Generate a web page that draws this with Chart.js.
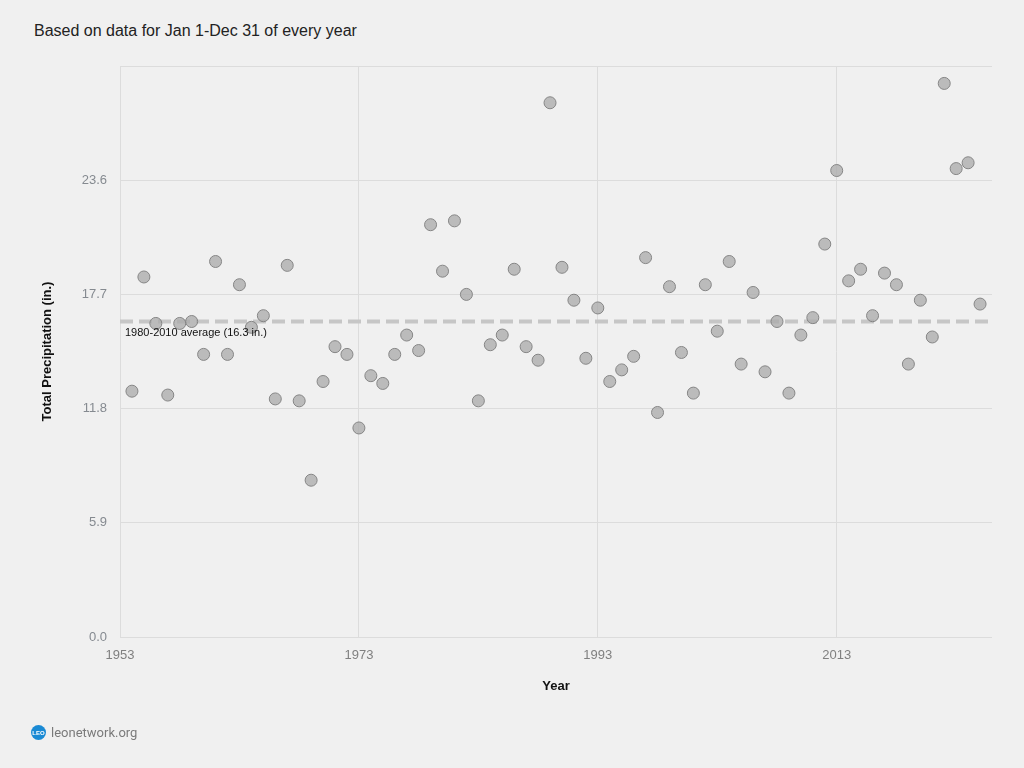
<!DOCTYPE html>
<html>
<head>
<meta charset="utf-8">
<script src="https://cdn.jsdelivr.net/npm/chart.js@4.4.1/dist/chart.umd.min.js"></script>
<style>
    html, body { margin: 0; padding: 0; background: #f0f0f0; }
    body { width: 1024px; height: 768px; position: relative; overflow: hidden; }
    #title {
        position: absolute; left: 34px; top: 22px;
        font: 16px "Liberation Sans", Arial, sans-serif; color: #222;
    }
    #wrap { position: absolute; left: 0; top: 0; width: 1024px; height: 768px; }
    #footer {
        position: absolute; left: 31px; top: 725px;
        font: 13px Roboto, sans-serif; color: #7a7a7a;
        display: flex; align-items: center;
    }
    #logo {
        width: 15px; height: 15px; border-radius: 50%; background: #1a8ad4;
        color: #fff; font: bold 6px "Liberation Sans", Arial, sans-serif;
        display: flex; align-items: center; justify-content: center; margin-right: 5px;
    }
</style>
</head>
<body>
<div id="title">Based on data for Jan 1-Dec 31 of every year</div>
<div id="wrap"><canvas id="precipChart"></canvas></div>
<div id="footer"><div id="logo">LEO</div>leonetwork.org</div>
<script>
const years = [
    1954, 1955, 1956, 1957, 1958, 1959, 1960, 1961, 1962, 1963,
    1964, 1965, 1966, 1967, 1968, 1969, 1970, 1971, 1972, 1973,
    1974, 1975, 1976, 1977, 1978, 1979, 1980, 1981, 1982, 1983,
    1984, 1985, 1986, 1987, 1988, 1989, 1990, 1991, 1992, 1993,
    1994, 1995, 1996, 1997, 1998, 1999, 2000, 2001, 2002, 2003,
    2004, 2005, 2006, 2007, 2008, 2009, 2010, 2011, 2012, 2013,
    2014, 2015, 2016, 2017, 2018, 2019, 2020, 2021, 2022, 2023,
    2024, 2025
];
const precip = [
    12.7, 18.6, 16.2, 12.5, 16.2, 16.3, 14.6, 19.4, 14.6, 18.2,
    16.0, 16.6, 12.3, 19.2, 12.2, 8.1, 13.2, 15.0, 14.6, 10.8,
    13.5, 13.1, 14.6, 15.6, 14.8, 21.3, 18.9, 21.5, 17.7, 12.2,
    15.1, 15.6, 19.0, 15.0, 14.3, 27.6, 19.1, 17.4, 14.4, 17.0,
    13.2, 13.8, 14.5, 19.6, 11.6, 18.1, 14.7, 12.6, 18.2, 15.8,
    19.4, 14.1, 17.8, 13.7, 16.3, 12.6, 15.6, 16.5, 20.3, 24.1,
    18.4, 19.0, 16.6, 18.8, 18.2, 14.1, 17.4, 15.5, 28.6, 24.2,
    24.5, 17.2
];
const average = 16.3;
const averageLabel = '1980-2010 average (16.3 in.)';
const xRange = [1953, 2026];
const xTicks = [1953, 1973, 1993, 2013];
const yTicks = [0, 5.9, 11.8, 17.7, 23.6, 29.5];

// label under the dashed average line
const averageLabelPlugin = {
    id: 'averageLabel',
    afterDatasetsDraw(chart) {
        const ctx = chart.ctx;
        const y = chart.scales.y.getPixelForValue(average);
        ctx.save();
        ctx.font = '11px "Liberation Sans", Arial, sans-serif';
        ctx.fillStyle = '#111';
        ctx.textBaseline = 'middle';
        ctx.fillText(averageLabel, chart.chartArea.left + 5, y + 11);
        ctx.restore();
    }
};

const ctx = document.getElementById('precipChart').getContext('2d');
const precipChart = new Chart(ctx, {
    type: 'scatter',
    data: {
        datasets: [{
            label: 'Precipitation',
            data: years.map((yr, i) => ({ x: yr, y: precip[i] })),
            backgroundColor: 'rgba(170,170,170,0.75)',
            borderColor: '#858585',
            borderWidth: 1,
            pointRadius: 6,
            order: 1
        }, {
            type: 'line',
            label: 'Average',
            data: xRange.map(yr => ({ x: yr, y: average })),
            borderColor: '#c6c6c6',
            borderWidth: 4,
            borderDash: [13, 6],
            pointRadius: 0,
            fill: false,
            order: 2
        }]
    },
    options: {
        responsive: true,
        maintainAspectRatio: false,
        animation: false,
        layout: {
            padding: { left: 0, top: 66, right: 32, bottom: 71 }
        },
        plugins: {
            legend: { display: false },
            tooltip: { enabled: false }
        },
        scales: {
            x: {
                type: 'linear',
                min: xRange[0],
                max: xRange[1],
                afterBuildTicks: scale => {
                    scale.ticks = xTicks.map(v => ({ value: v }));
                },
                afterFit: scale => { scale.height = 60; },
                ticks: {
                    color: '#808080',
                    font: { family: '"Liberation Sans", Arial, sans-serif', size: 13 },
                    padding: 11,
                    maxRotation: 0,
                    callback: v => String(v)
                },
                grid: { color: '#dcdcdc', drawTicks: false },
                border: { display: false },
                title: {
                    display: true,
                    text: 'Year',
                    color: '#111',
                    font: { family: '"Liberation Sans", Arial, sans-serif', size: 13, weight: 'bold' },
                    padding: { top: 0, bottom: 3 }
                }
            },
            y: {
                min: 0,
                max: 29.5,
                afterBuildTicks: scale => {
                    scale.ticks = yTicks.map(v => ({ value: v }));
                },
                afterFit: scale => { scale.width = 120; },
                ticks: {
                    color: '#858a90',
                    font: { family: '"Liberation Sans", Arial, sans-serif', size: 13 },
                    padding: 13,
                    callback: v => (v >= 29 ? '' : v.toFixed(1))
                },
                grid: { color: '#dcdcdc', drawTicks: false },
                border: { display: false },
                title: {
                    display: true,
                    text: 'Total Precipitation (in.)',
                    color: '#111',
                    font: { family: '"Liberation Sans", Arial, sans-serif', size: 13, weight: 'bold' },
                    padding: { top: 40, bottom: 0 }
                }
            }
        }
    },
    plugins: [averageLabelPlugin]
});
</script>
</body>
</html>
